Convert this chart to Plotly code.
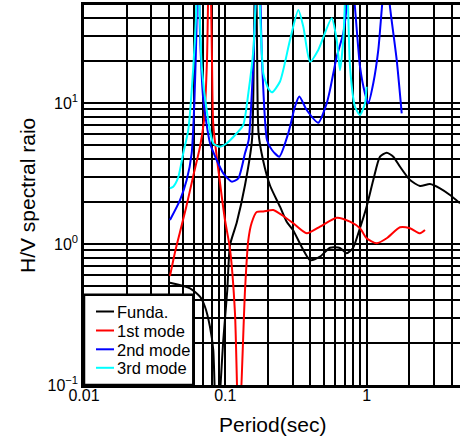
import plotly.graph_objects as go

# Period (sec) and H/V spectral ratio for each mode
funda_period = [0.0406, 0.0563, 0.0662, 0.0718, 0.0779, 0.0822, 0.0867, 0.0968, 0.1033,
                0.108, 0.1204, 0.1379, 0.1545, 0.1596, 0.1636, 0.1676, 0.1718, 0.1849,
                0.2072, 0.2439, 0.272, 0.3013, 0.3977, 0.468, 0.551, 0.648, 0.723,
                0.801, 0.898, 1.0, 1.115, 1.244, 1.388, 1.545, 1.724, 2.029, 2.387,
                2.81, 3.307, 3.893, 4.58]
funda_hv = [0.531, 0.485, 0.423, 0.359, 0.259, 0.177, 0.04, 0.2085, 0.472,
            0.984, 1.416, 2.62, 5.47, 28.0, 200.0, 28.0, 6.13, 3.94,
            2.6, 1.839, 1.439, 1.257, 0.77, 0.813, 0.941, 0.937, 0.859,
            0.937, 1.299, 1.839, 2.84, 4.16, 4.44, 4.16, 3.53, 2.84, 2.58,
            2.66, 2.48, 2.225, 1.944]

mode1_period = [0.0406, 0.0441, 0.0478, 0.0527, 0.0591, 0.0662, 0.0707, 0.0742, 0.0773,
                0.0805, 0.0822, 0.0918, 0.0995, 0.108, 0.1171, 0.1247, 0.1379, 0.1455,
                0.1537, 0.1668, 0.1858, 0.2186, 0.2573, 0.303, 0.3768, 0.468, 0.6143,
                0.763, 0.898, 1.0, 1.179, 1.388, 1.724, 2.029, 2.387, 2.59]
mode1_hv = [0.593, 0.878, 1.216, 1.80, 2.99, 4.88, 7.57, 20.2, 200.0,
            20.0, 7.0, 2.70, 1.48, 0.917, 0.3225, 0.04, 0.472, 1.067,
            1.416, 1.687, 1.70, 1.742, 1.58, 1.402, 1.191, 1.327, 1.536,
            1.44, 1.292, 1.098, 1.012, 1.098, 1.313, 1.292, 1.191, 1.257]

mode2_period = [0.0406, 0.0478, 0.0533, 0.0578, 0.0605, 0.0625, 0.0641, 0.0662, 0.0699,
                0.0779, 0.0869, 0.0968, 0.111, 0.1236, 0.1379, 0.1464, 0.157, 0.1718,
                0.1819, 0.1973, 0.214, 0.241, 0.279, 0.311, 0.334, 0.3768, 0.455,
                0.522, 0.551, 0.6143, 0.684, 0.723, 0.769, 0.828, 0.898, 0.974,
                1.028, 1.115, 1.21, 1.279, 1.372, 1.464, 1.633, 1.772]
mode2_hv = [1.48, 2.05, 2.84, 4.40, 10.5, 32.9, 150.0, 31.4, 10.5,
            5.2, 3.94, 3.17, 2.77, 2.92, 4.40, 5.47, 17.1, 150.0,
            20.2, 5.47, 4.64, 4.16, 6.1, 9.41, 11.1, 8.92, 7.25,
            9.95, 12.4, 21.3, 31.2, 48.0, 100.0, 47.0, 18.1, 11.7,
            9.95, 13.8, 23.8, 45.7, 100.0, 48.0, 20.2, 8.45]

mode3_period = [0.0406, 0.0428, 0.0463, 0.0504, 0.0547, 0.0594, 0.062, 0.0636, 0.0681,
                0.0738, 0.0822, 0.0918, 0.1023, 0.1204, 0.134, 0.1455, 0.158, 0.170,
                0.1858, 0.2015, 0.214, 0.2439, 0.287, 0.3285, 0.3565, 0.3977, 0.455,
                0.566, 0.6143, 0.648, 0.684, 0.723, 0.763, 0.828, 0.898, 0.974, 1.0]
mode3_hv = [2.48, 2.55, 2.94, 4.40, 6.43, 18.1, 40.9, 120.0, 18.1,
            8.92, 5.18, 4.90, 5.18, 6.1, 6.98, 11.7, 23.8, 100.0,
            16.2, 12.7, 11.9, 14.2, 28.0, 45.7, 34.8, 19.6, 23.8,
            39.9, 28.0, 17.1, 28.0, 100.0, 18.1, 9.41, 8.22, 9.95, 13.05]

series_names = ["Funda.", "1st mode", "2nd mode", "3rd mode"]
series_colors = ["#000000", "#ff0000", "#0000ff", "#00ffff"]
series_data = [(funda_period, funda_hv), (mode1_period, mode1_hv),
               (mode2_period, mode2_hv), (mode3_period, mode3_hv)]

x_ticks = [0.01, 0.1, 1]
x_ticktext = ["0.01", "0.1", "1"]
y_ticks = [0.1, 1, 10]
y_ticktext = ["10<sup>\u22121</sup>", "10<sup>0</sup>", "10<sup>1</sup>"]

FONT = "Liberation Sans, Arial, sans-serif"
W, H = 460, 446
ML, MT, MR, MB = 84, 5, 0, 61

fig = go.Figure()
for name, color, (px, hv) in zip(series_names, series_colors, series_data):
    fig.add_trace(go.Scatter(x=px, y=hv, mode="lines", name=name,
                             line=dict(color=color, width=2, shape="spline", smoothing=0.6),
                             showlegend=False))

def minor_vals(decades):
    return [m * 10 ** d for d in decades for m in range(2, 10)]

GRID_W = 1.7
grid = dict(showgrid=True, gridcolor="#000000", gridwidth=GRID_W)

fig.update_layout(
    width=W, height=H,
    margin=dict(l=ML, r=MR, t=MT, b=MB, autoexpand=False),
    paper_bgcolor="white", plot_bgcolor="white",
    font=dict(family=FONT, size=16, color="black"),
    xaxis=dict(type="log", range=[-2, 0.661], tickmode="array", tickvals=x_ticks,
               ticktext=x_ticktext, ticks="", showline=True, linecolor="black",
               linewidth=2.5, mirror=True, zeroline=False, automargin=False,
               ticklabelstandoff=-6,
               minor=dict(tickmode="array", tickvals=minor_vals([-2, -1, 0]),
                          showgrid=True, gridcolor="#000000", gridwidth=GRID_W, ticks=""),
               tickfont=dict(size=16), **grid),
    yaxis=dict(type="log", range=[-1, 1.695], tickmode="array", tickvals=y_ticks,
               ticktext=y_ticktext, ticks="", showline=True, linecolor="black",
               linewidth=2.5, mirror=False, zeroline=False, automargin=False,
               minor=dict(tickmode="array", tickvals=minor_vals([-1, 0, 1]),
                          showgrid=True, gridcolor="#000000", gridwidth=GRID_W, ticks=""),
               tickfont=dict(size=16), **grid),
)

plot_w = W - ML - MR
plot_h = H - MT - MB

def px_x(p):
    return (p - ML) / plot_w

def px_y(p):
    return (H - MB - p) / plot_h

# axis titles
fig.add_annotation(text="Period(sec)", xref="paper", yref="paper", x=0.5, y=px_y(425),
                   xanchor="center", yanchor="middle", showarrow=False, font=dict(size=21))
fig.add_annotation(text="H/V spectral raio", xref="paper", yref="paper", x=px_x(27), y=0.5,
                   xanchor="center", yanchor="middle", textangle=-90, showarrow=False,
                   font=dict(size=21))

# legend box in the lower-left corner of the plot
fig.add_shape(type="rect", xref="paper", yref="paper", x0=0, x1=px_x(193.3), y0=0,
              y1=px_y(294.7), line=dict(color="black", width=2.5), fillcolor="white",
              layer="above")
entry_y = [311.5, 330.5, 349.3, 367.8]
for name, color, ey in zip(series_names, series_colors, entry_y):
    fig.add_shape(type="line", xref="paper", yref="paper", x0=px_x(96), x1=px_x(114),
                  y0=px_y(ey), y1=px_y(ey), line=dict(color=color, width=2), layer="above")
    fig.add_annotation(text=name, xref="paper", yref="paper", x=px_x(115), y=px_y(ey + 0.5),
                       xanchor="left", yanchor="middle", showarrow=False,
                       font=dict(size=16.5))

fig.write_html("out.html")
